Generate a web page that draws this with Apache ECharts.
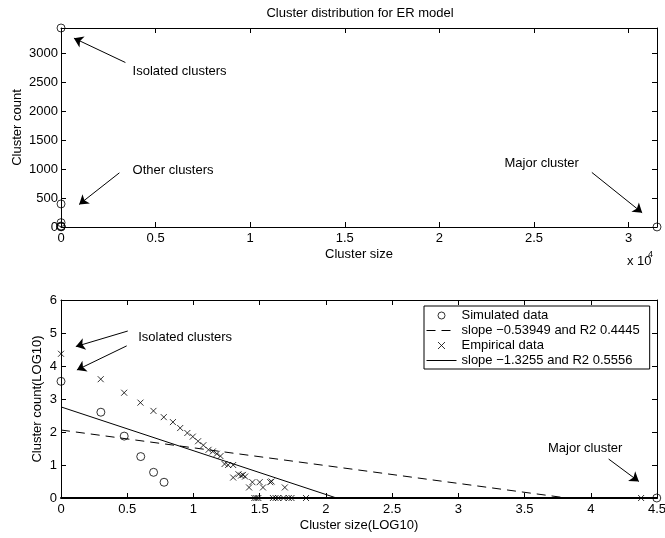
<!DOCTYPE html>
<html>
<head>
<meta charset="utf-8">
<title>Cluster distribution for ER model</title>
<script src="https://cdn.jsdelivr.net/npm/echarts@6/dist/echarts.min.js"></script>
<style>
html, body { margin: 0; padding: 0; background: #fff; }
#main { width: 665px; height: 538px; }
</style>
</head>
<body>
<div id="main"></div>
<script>
// 模拟数据（ER模型）：簇大小 / 簇数量
var simSize = [1, 2, 3, 4, 5, 6, 31500];
var simCount = [3432, 398, 75, 18, 6, 3, 1];

// 经验数据（对数坐标读数）
var empLogSize = [0, 0.30, 0.477, 0.60, 0.698, 0.776, 0.845, 0.90, 0.954, 0.995, 1.035, 1.075,
    1.114, 1.146, 1.176, 1.204, 1.235, 1.262, 1.30, 1.30, 1.34, 1.36, 1.374, 1.39,
    1.42, 1.445, 1.50, 1.525, 1.58, 1.59, 1.69,
    1.46, 1.475, 1.49, 1.60, 1.62, 1.64, 1.68, 1.72, 1.74, 1.85, 4.38];
var empLogCount = [4.37, 3.60, 3.19, 2.89, 2.64, 2.45, 2.30, 2.12, 1.97, 1.86, 1.72, 1.60,
    1.46, 1.41, 1.34, 1.27, 1.03, 1.00, 1.00, 0.62, 0.72, 0.68, 0.70, 0.65,
    0.32, 0.48, 0.48, 0.32, 0.48, 0.50, 0.32,
    0, 0, 0, 0, 0, 0, 0, 0, 0, 0, 0];

// 拟合直线端点
var simFitX = [0, 3.82];
var simFitY = [2.06, 0];
var empFitX = [0, 2.08];
var empFitY = [2.76, 0];

// 坐标轴范围
var topXMax = 31500, topXStep = 5000;
var topYMax = 3432, topYStep = 500;
var botXMax = 4.5, botXStep = 0.5;
var botYMax = 6, botYStep = 1;

var legendNames = ['Simulated data', 'slope \u22120.53949 and R2 0.4445',
    'Empirical data', 'slope \u22121.3255 and R2 0.5556'];

// 注释（数据坐标）：箭头 [起点, 终点]，文字 [x, y, 文本]
var topArrows = [[[3404, 2837], [683, 3257]], [[3086, 934], [958, 389]], [[28057, 941], [30715, 246]]];
var topNotes = [[3759, 2682, 'Isolated clusters'], [3759, 981, 'Other clusters'], [23415, 1097, 'Major cluster']];
var botArrows = [[[0.504, 5.06], [0.112, 4.59]], [[0.496, 4.61], [0.120, 3.88]], [[4.135, 1.18], [4.363, 0.50]]];
var botNotes = [[0.579, 4.86, 'Isolated clusters'], [3.673, 1.51, 'Major cluster']];

var FONT = '"Liberation Sans", Arial, Helvetica, sans-serif';
var CROSS = 'path://M0,0L10,10M10,0L0,10';
var CLEAR = 'rgba(0,0,0,0)';

function pairs(xs, ys) {
    return xs.map(function (x, i) { return [x, ys[i]]; });
}

function arrowLines(list) {
    return list.map(function (a) {
        return [{ coord: a[0] }, { coord: a[1] }];
    });
}

function notePoints(list) {
    return list.map(function (n) {
        return { name: n[2], coord: [n[0], n[1]] };
    });
}

function markLineOpt(list) {
    return {
        silent: true,
        symbol: ['none', 'arrow'],
        symbolSize: 9,
        lineStyle: { color: '#000', width: 1, type: 'solid' },
        itemStyle: { color: '#000' },
        label: { show: false },
        data: arrowLines(list)
    };
}

function markPointOpt(list) {
    return {
        silent: true,
        symbol: 'circle',
        symbolSize: 1,
        itemStyle: { color: CLEAR },
        label: { show: true, position: 'right', distance: 0, formatter: '{b}', color: '#000', fontSize: 13, fontFamily: FONT },
        data: notePoints(list)
    };
}

function plain(v) { return String(v); }

function mainAxis(grid, max, step, pos, extra) {
    var o = {
        type: 'value', gridIndex: grid, min: 0, max: max, interval: step, position: pos,
        axisLine: { show: true, onZero: false, lineStyle: { color: '#000', width: 1 } },
        axisTick: { show: true, inside: true, length: 5, lineStyle: { color: '#000', width: 1 } },
        axisLabel: { show: true, color: '#000', fontSize: 13, fontFamily: FONT, margin: 5, formatter: plain },
        splitLine: { show: false },
        nameLocation: 'middle',
        nameMoveOverlap: false,
        nameTextStyle: { color: '#000', fontSize: 13, fontFamily: FONT }
    };
    for (var k in extra) o[k] = extra[k];
    return o;
}

function mirrorAxis(grid, max, step, pos) {
    return mainAxis(grid, max, step, pos, { axisLabel: { show: false } });
}

var chart = echarts.init(document.getElementById('main'));

var option = {
    animation: false,
    backgroundColor: '#fff',
    textStyle: { fontFamily: FONT },
    title: {
        text: 'Cluster distribution for ER model',
        left: 360, top: 7, padding: 0, textAlign: 'center',
        textStyle: { color: '#000', fontSize: 13, fontWeight: 'normal', fontFamily: FONT }
    },
    legend: {
        data: legendNames,
        orient: 'vertical',
        left: 424, top: 306,
        padding: [3, 10, 2, 2],
        itemWidth: 30, itemHeight: 7, itemGap: 2,
        borderColor: '#000', borderWidth: 1, borderRadius: 0,
        backgroundColor: '#fff',
        selectedMode: false,
        itemStyle: { borderWidth: 1 },
        lineStyle: { width: 1 },
        textStyle: { color: '#000', fontSize: 13, fontFamily: FONT, lineHeight: 13 }
    },
    graphic: [
        { type: 'text', x: 627, y: 261.5, style: { text: 'x 10', fill: '#000', font: '13px ' + FONT, verticalAlign: 'middle' } },
        { type: 'text', x: 648, y: 255, style: { text: '4', fill: '#000', font: '9px ' + FONT, verticalAlign: 'middle' } }
    ],
    grid: [
        { left: 61, right: 8, top: 28, height: 199, outerBoundsMode: 'none', containLabel: false },
        { left: 61, right: 8, top: 300, height: 198, outerBoundsMode: 'none', containLabel: false }
    ],
    xAxis: [
        mainAxis(0, topXMax, topXStep, 'bottom', {
            name: 'Cluster size', nameGap: 21,
            axisLabel: { color: '#000', fontSize: 13, fontFamily: FONT, margin: 5, showMaxLabel: false,
                formatter: function (v) { return String(v / 10000); } }
        }),
        mirrorAxis(0, topXMax, topXStep, 'top'),
        mainAxis(1, botXMax, botXStep, 'bottom', {
            name: 'Cluster size(LOG10)', nameGap: 21,
            axisLine: { show: true, onZero: false, lineStyle: { color: '#000', width: 2 } }
        }),
        mirrorAxis(1, botXMax, botXStep, 'top')
    ],
    yAxis: [
        mainAxis(0, topYMax, topYStep, 'left', {
            name: 'Cluster count', nameGap: 37,
            axisLabel: { color: '#000', fontSize: 13, fontFamily: FONT, margin: 3, showMaxLabel: false, formatter: plain }
        }),
        mirrorAxis(0, topYMax, topYStep, 'right'),
        mainAxis(1, botYMax, botYStep, 'left', {
            name: 'Cluster count(LOG10)', nameGap: 17,
            axisLabel: { color: '#000', fontSize: 13, fontFamily: FONT, margin: 4, formatter: plain }
        }),
        mirrorAxis(1, botYMax, botYStep, 'right')
    ],
    series: [
        {
            name: 'ER clusters',
            type: 'scatter',
            xAxisIndex: 0, yAxisIndex: 0,
            clip: false,
            symbol: 'circle', symbolSize: 8,
            itemStyle: { color: CLEAR, borderColor: '#000', borderWidth: 1 },
            data: pairs(simSize, simCount),
            markLine: markLineOpt(topArrows),
            markPoint: markPointOpt(topNotes)
        },
        {
            name: legendNames[0],
            type: 'scatter',
            xAxisIndex: 2, yAxisIndex: 2,
            clip: false,
            symbol: 'circle', symbolSize: 8,
            itemStyle: { color: CLEAR, borderColor: '#000', borderWidth: 1 },
            data: pairs(simSize.map(Math.log10), simCount.map(Math.log10)),
            markLine: markLineOpt(botArrows),
            markPoint: markPointOpt(botNotes)
        },
        {
            name: legendNames[1],
            type: 'line',
            xAxisIndex: 2, yAxisIndex: 2,
            symbol: 'none',
            itemStyle: { color: CLEAR, borderColor: CLEAR, borderWidth: 0 },
            lineStyle: { color: '#000', width: 1, type: [9, 6] },
            data: pairs(simFitX, simFitY)
        },
        {
            name: legendNames[2],
            type: 'scatter',
            xAxisIndex: 2, yAxisIndex: 2,
            clip: false,
            symbol: CROSS, symbolSize: 6,
            itemStyle: { color: CLEAR, borderColor: '#000', borderWidth: 1 },
            data: pairs(empLogSize, empLogCount)
        },
        {
            name: legendNames[3],
            type: 'line',
            xAxisIndex: 2, yAxisIndex: 2,
            symbol: 'none',
            itemStyle: { color: CLEAR, borderColor: CLEAR, borderWidth: 0 },
            lineStyle: { color: '#000', width: 1 },
            data: pairs(empFitX, empFitY)
        }
    ]
};

chart.setOption(option);
</script>
</body>
</html>
